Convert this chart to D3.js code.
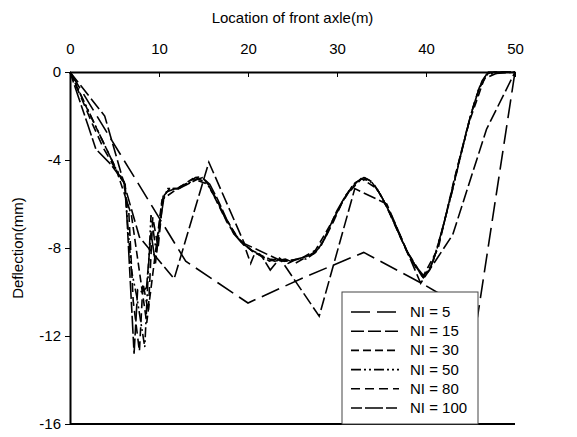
<!DOCTYPE html>
<html lang='en'>
<head>
  <meta charset='UTF-8'>
  <title>Deflection</title>
  <style>
    body { margin: 0; background: #fff; }
    svg text { font-family: 'Liberation Sans', Arial, sans-serif; font-size: 15px; fill: #000; }
  </style>
</head>
<body>
<div id='chart'></div>
<script src='https://d3js.org/d3.v7.min.js'></script>
<script>
  // tick values
  var xTicks = [0, 10, 20, 30, 40, 50]
  var yTicks = [0, -4, -8, -12, -16]
  var names = ['NI = 5', 'NI = 15', 'NI = 30', 'NI = 50', 'NI = 80', 'NI = 100']

  // values (location m, deflection mm)
  var ni5X = [0, 6.5, 13, 20, 26.5, 33, 39.5, 45.8, 50]
  var ni5Y = [0, -4.3, -8.6, -10.5, -9.3, -8.2, -9.6, -11.1, 0]

  var ni15X = [0, 3.9, 7.8, 11.7, 15.6, 19.6, 23.8, 28, 32, 35.6, 39.4, 43, 46.8, 50]
  var ni15Y = [0, -2.0, -7.5, -9.4, -4.1, -7.8, -8.6, -11.1, -5.3, -6.0, -9.6, -7.4, -2.6, 0]

  var ni30X = [0, 1.72, 3.45, 5.17, 6.9, 8.62, 10.34, 12.07, 13.79, 15.52, 17.24, 18.97, 20.69, 22.41, 24.14,
    25.86, 27.59, 29.31, 31.03, 32.76, 34.48, 36.21, 37.93, 39.66, 41.38, 43.1, 44.83, 46.55, 48.28, 50]
  var ni30Y = [0, -1.5, -2.95, -4.4, -6.5, -11.4, -5.8, -5.3, -4.85, -5.1, -6.5, -7.6, -8.2, -8.5, -8.6,
    -8.5, -8.1, -6.9, -5.6, -4.85, -5.3, -6.6, -8.2, -9.3, -8.0, -5.0, -2.3, -0.3, 0, 0]

  var ni50X = [0, 1, 2, 3.1, 4.1, 5.1, 6.1, 6.9, 7.5, 8.4, 9.1, 9.7, 10.3, 11, 12.2, 13.3, 14.3, 15.3, 16.3, 17.3,
    18.4, 19.4, 20.4, 21.4, 22.4, 23.5, 24.5, 25.5, 26.5, 27.6, 28.6, 29.6, 30.6, 31.6, 32.7, 33.7, 34.7, 35.7, 36.7, 37.8,
    38.8, 39.8, 40.8, 41.8, 42.9, 43.9, 44.9, 45.9, 46.9, 50]
  var ni50Y = [0, -0.85, -1.7, -2.65, -3.5, -4.35, -5.0, -9.0, -10.2, -12.5, -6.5, -8.2, -6.0, -5.3, -5.3, -5.05, -4.85, -5.0, -5.7, -6.5,
    -7.35, -7.8, -8.1, -8.3, -8.6, -8.45, -8.7, -8.5, -8.5, -8.2, -7.6, -6.7, -5.9, -5.25, -4.85, -4.95, -5.45, -6.2, -7.1, -8.1,
    -8.8, -9.3, -8.6, -7.2, -5.5, -3.8, -2.15, -0.8, -0.1, 0]

  var ni80X = [0, 1.3, 2.5, 3.8, 5.1, 6, 6.6, 7.1, 7.8, 8.2, 8.8, 9.3, 9.9, 10.5, 11.2, 12.2, 13.2, 14.1, 14.8, 15.6,
    16.6, 17.6, 18.6, 19.6, 20.3, 20.8, 21.8, 23, 24.2, 25.3, 26.6, 27.8, 28.6, 29.6, 30.5, 31.4, 32.2, 33.1, 34, 35,
    36, 37, 38, 38.9, 39.7, 40.4, 41.2, 42, 42.9, 43.8, 44.6, 45.5, 46.3, 47, 50]
  var ni80Y = [0, -1.2, -2.35, -3.5, -4.4, -5.0, -6.3, -10.4, -12.7, -9.6, -10.9, -6.6, -8.0, -5.5, -5.4, -5.25, -5.05, -4.8, -4.75, -5.15,
    -5.9, -6.8, -7.45, -7.9, -8.7, -8.2, -8.45, -8.6, -8.5, -8.7, -8.4, -8.1, -7.6, -6.8, -6.0, -5.4, -5.0, -4.8, -5.0, -5.65,
    -6.5, -7.4, -8.3, -8.9, -9.35, -9.0, -8.1, -6.9, -5.4, -3.9, -2.6, -1.3, -0.4, 0, 0]

  var ni100X = [0, 1, 2, 2.9, 4.6, 5.5, 6.2, 7.2, 7.6, 8.1, 8.6, 9.1, 9.6, 10.1, 10.6, 11.2, 12.2, 13.2, 14.2, 14.9,
    15.7, 16.6, 17.6, 18.6, 19.6, 20.5, 21.5, 22.5, 23.5, 24.5, 25.5, 26.5, 27.4, 28.2, 29, 30, 31, 32, 33, 33.8,
    34.8, 35.8, 36.8, 37.8, 38.8, 39.6, 40.4, 41.2, 42, 43, 44, 45, 46, 46.8, 47.5, 50]
  var ni100Y = [0, -1.2, -2.4, -3.5, -4.2, -4.7, -5.1, -12.8, -9.9, -10.0, -9.8, -7.3, -8.7, -6.9, -5.6, -5.3, -5.3, -5.1, -4.9, -4.8,
    -5.1, -5.8, -6.7, -7.4, -7.85, -8.15, -8.35, -9.0, -8.5, -8.6, -8.5, -8.4, -8.25, -7.9, -7.2, -6.3, -5.6, -5.05, -4.8, -4.95,
    -5.5, -6.3, -7.2, -8.1, -8.8, -9.3, -9.0, -8.1, -6.9, -5.3, -3.6, -2.0, -0.7, -0.1, 0, 0]

  // dash styles for each series, same order as names
  var dashes = ['19,7', '13,4', '8,4', '10,3,2,3,2,3', '9,5', '11,3,18,3']

  var width = 577
  var height = 437
  var plot = {left: 70, right: 515, top: 72, bottom: 424}
  var font = "'Liberation Sans', Arial, sans-serif"

  var render = function () {
    var svg = d3.select('#chart').append('svg')
      .attr('width', width)
      .attr('height', height)

    var x = d3.scaleLinear().domain([0, 50]).range([plot.left, plot.right])
    var y = d3.scaleLinear().domain([0, -16]).range([plot.top, plot.bottom])

    var series = [
      d3.zip(ni5X, ni5Y), d3.zip(ni15X, ni15Y), d3.zip(ni30X, ni30Y),
      d3.zip(ni50X, ni50Y), d3.zip(ni80X, ni80Y), d3.zip(ni100X, ni100Y)
    ]

    var line = d3.line()
      .x(function (d) { return x(d[0]) })
      .y(function (d) { return y(d[1]) })

    // curves
    svg.append('g').selectAll('path')
      .data(series)
      .enter().append('path')
      .attr('d', line)
      .attr('fill', 'none')
      .attr('stroke', '#000')
      .attr('stroke-width', 1.6)
      .attr('stroke-dasharray', function (d, i) { return dashes[i] })

    // plain hyphen for negative labels, like the source figure
    var plain = function (d) { return String(d) }

    // top axis, ticks pointing into the plot
    var top = svg.append('g')
      .attr('transform', 'translate(0,' + plot.top + ')')
      .call(d3.axisTop(x).tickValues(xTicks).tickFormat(plain).tickSizeInner(-5).tickSizeOuter(0).tickPadding(18))
    top.select('.domain').attr('stroke-width', 2)
    top.selectAll('text').style('font-size', '15px').style('font-family', font)

    // left axis
    var left = svg.append('g')
      .attr('transform', 'translate(' + plot.left + ',0)')
      .call(d3.axisLeft(y).tickValues(yTicks).tickFormat(plain).tickSizeInner(5).tickSizeOuter(0).tickPadding(4))
    left.select('.domain').attr('stroke-width', 2)
    left.selectAll('text').style('font-size', '15px').style('font-family', font)

    // bottom border
    svg.append('line')
      .attr('x1', plot.left).attr('x2', plot.right)
      .attr('y1', plot.bottom).attr('y2', plot.bottom)
      .attr('stroke', '#000').attr('stroke-width', 2)

    // axis titles
    svg.append('text')
      .attr('x', (plot.left + plot.right) / 2)
      .attr('y', 23)
      .attr('text-anchor', 'middle')
      .text('Location of front axle(m)')

    svg.append('text')
      .attr('transform', 'translate(23,' + (plot.top + plot.bottom) / 2 + ') rotate(-90)')
      .attr('text-anchor', 'middle')
      .text('Deflection(mm)')

    // legend
    var legend = svg.append('g').attr('transform', 'translate(342,292)')
    legend.append('rect')
      .attr('width', 136).attr('height', plot.bottom - 292)
      .attr('fill', '#fff').attr('stroke', '#444').attr('stroke-width', 1)

    var rows = legend.selectAll('g.row')
      .data(names)
      .enter().append('g')
      .attr('class', 'row')
      .attr('transform', function (d, i) { return 'translate(0,' + (20 + i * 19.2) + ')' })

    rows.append('line')
      .attr('x1', 9).attr('x2', 57)
      .attr('stroke', '#000').attr('stroke-width', 1.6)
      .attr('stroke-dasharray', function (d, i) { return dashes[i] })

    rows.append('text')
      .attr('x', 68).attr('y', 5)
      .text(function (d) { return d })
  }

  render()
</script>
</body>
</html>
